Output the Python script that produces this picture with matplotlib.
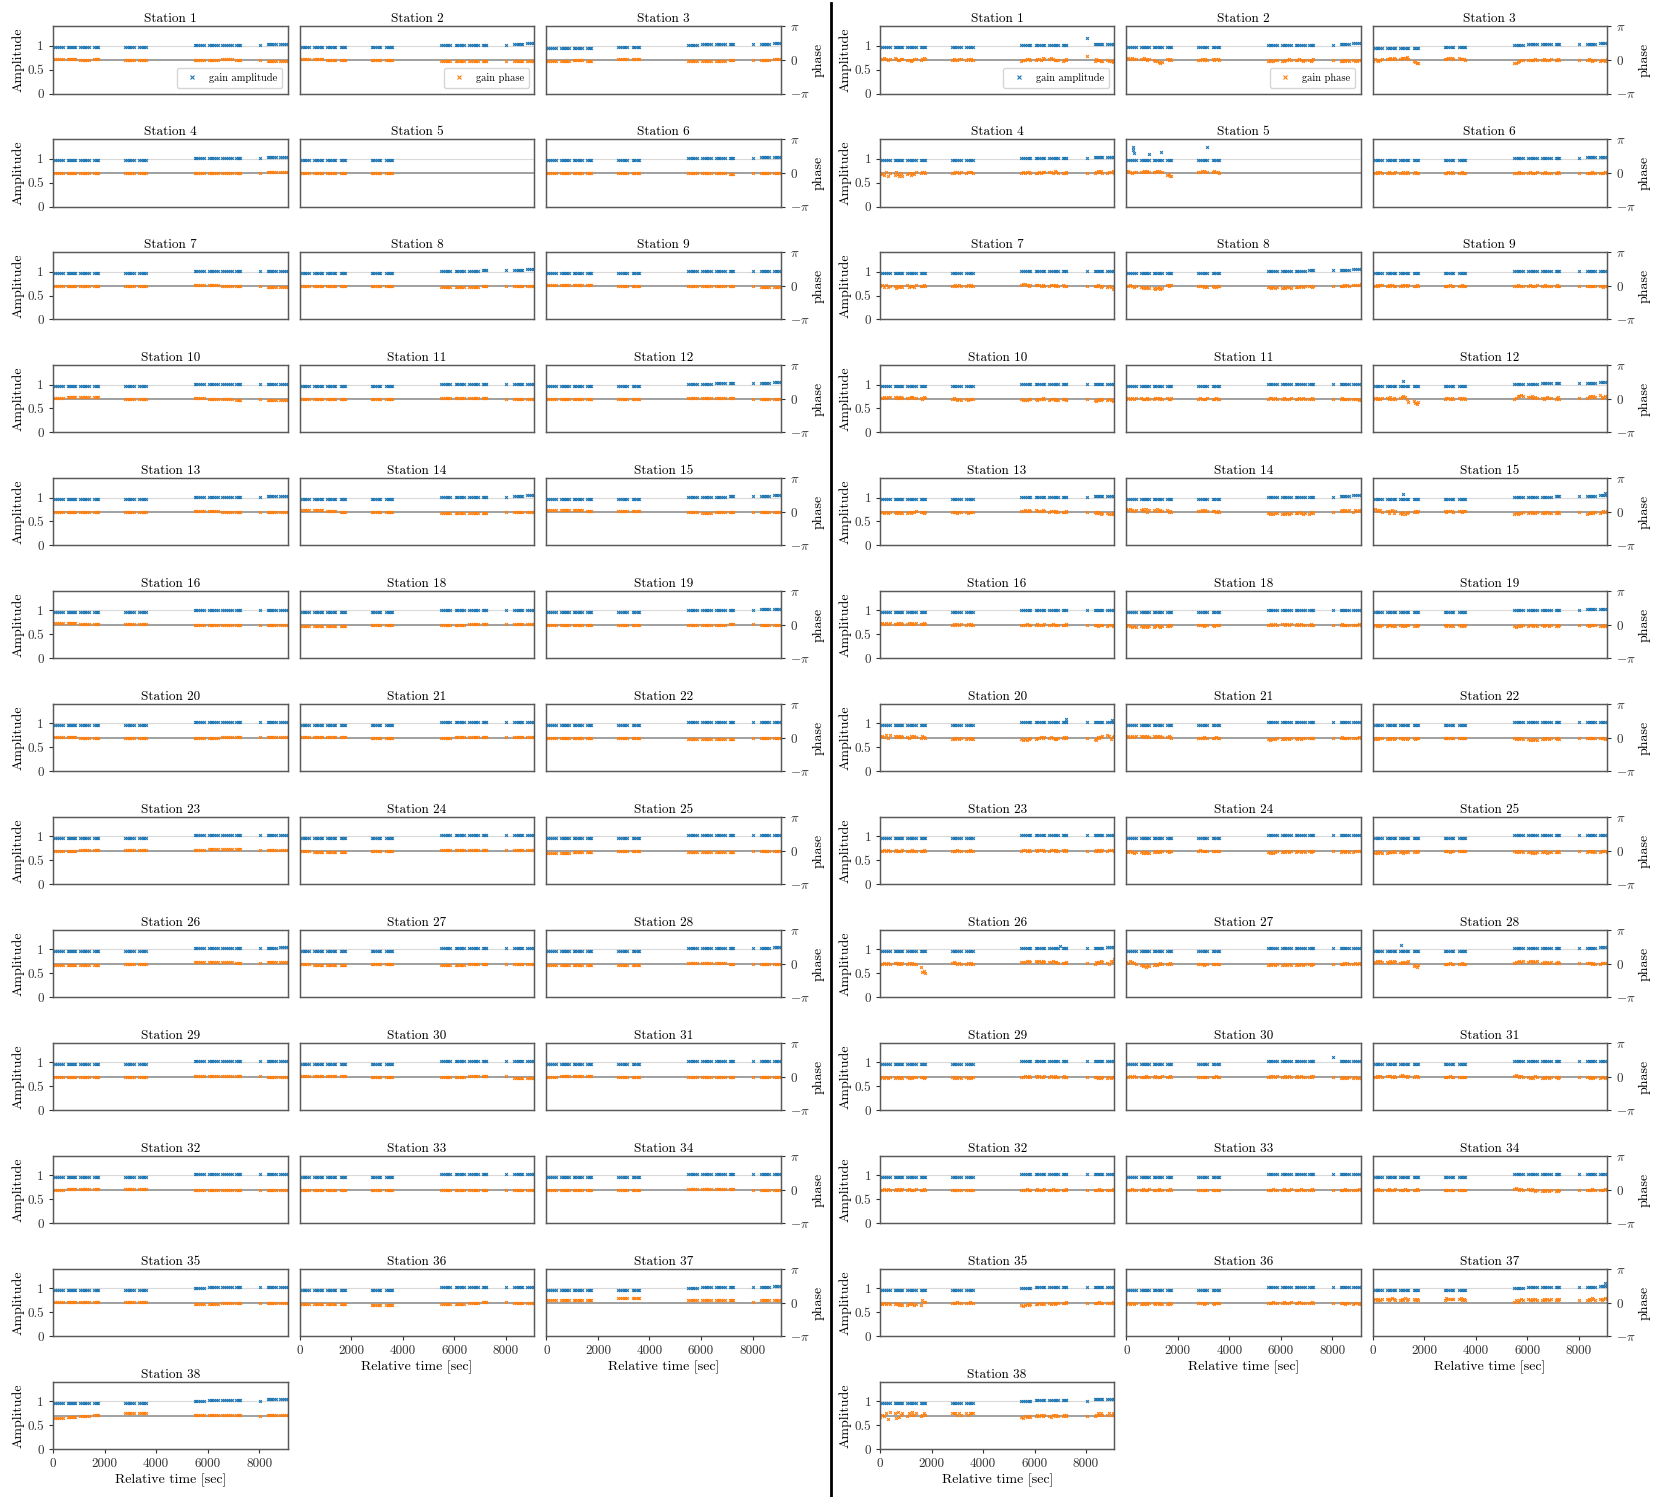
import numpy as np
import matplotlib
matplotlib.use("Agg")
import matplotlib.pyplot as plt
from matplotlib.lines import Line2D

plt.rcParams['font.family'] = 'serif'
plt.rcParams['font.serif'] = ['cmr10', 'DejaVu Serif']
plt.rcParams['mathtext.fontset'] = 'cm'
plt.rcParams['axes.formatter.use_mathtext'] = True

# station numbers (17 is missing)
stations = list(range(1, 17)) + list(range(18, 39))

# sample times [sec] of every scan
scan_times = [
    [0, 75, 150, 225, 300, 375],
    [570, 630, 690, 750, 810, 870],
    [1060, 1125, 1190, 1255, 1320, 1385],
    [1590, 1650, 1710, 1750],
    [2790, 2860, 2930, 3000, 3070, 3130],
    [3350, 3415, 3480, 3545, 3600],
    [5490, 5560, 5630, 5700, 5770, 5840],
    [6050, 6115, 6180, 6245, 6310, 6380],
    [6570, 6640, 6710, 6780, 6850, 6930],
    [7110, 7160, 7210, 7240],
    [8020],
    [8330, 8390, 8450, 8510, 8570, 8630],
    [8820, 8890, 8960, 9030, 9100],
]

# value codes: index in SYMBOLS minus 10, times a step, added to a centre
# amplitude: centre 1.0, step 0.01   phase: centre 0 rad, step 0.1 rad
# '.' = no sample in that scan
SYMBOLS = "edcba0123456789ABCDE"

# left figure: one code per scan
amp_left = [
    "2222 22 7777 7 88", "2222 22 7777 7 8A", "1110 22 7888 9 9B", "2222 22 7777 7 88",
    "2222 22", "2222 22 7777 7 88", "2222 22 7777 7 77", "1111 11 6678 8 9B",
    "2222 22 7777 7 77", "2222 22 7777 7 77", "2222 22 7777 7 77", "2221 22 7788 8 9B",
    "2222 22 7777 7 88", "2222 22 7777 7 8A", "1111 11 6778 8 9A", "2222 22 7777 7 77",
    "2222 22 7777 7 77", "2222 22 7777 7 88", "2222 22 7777 7 88", "2222 22 7777 7 88",
    "2222 22 7777 7 88", "2222 22 7778 8 88", "2222 22 7777 7 88", "2222 22 7777 7 88",
    "2222 22 7777 7 8A", "2222 22 7777 7 88", "2222 22 7777 7 8A", "2222 22 7777 7 88",
    "2222 22 7777 7 88", "2222 22 7777 7 88", "2222 22 7777 7 88", "2222 22 7777 7 88",
    "2222 22 7777 7 88", "2222 22 6778 7 88", "2222 22 7777 7 77", "2222 22 6777 7 8A",
    "1122 22 6777 6 9A",
]
phase_left = [
    "6656 55 5565 5 44", "6655 55 4444 4 44", "4454 66 4445 5 56", "5555 55 5555 5 66",
    "5555 55", "5555 55 5554 5 55", "5555 55 6655 5 44", "5555 55 4445 5 55",
    "6666 55 5555 5 44", "6777 55 6554 5 44", "5555 55 6666 5 55", "5555 55 6666 5 55",
    "5555 55 6655 5 55", "7765 55 4444 5 55", "7776 66 5455 5 55", "7766 66 5555 5 55",
    "4444 55 5566 6 66", "5555 55 5556 6 55", "6655 55 5566 6 66", "6666 55 5666 6 66",
    "5555 55 4444 5 55", "5566 66 6777 6 66", "5444 55 6666 6 66", "3344 55 4444 5 55",
    "4444 55 7776 6 77", "5444 55 4455 5 55", "4444 44 6665 5 55", "5555 55 6666 6 55",
    "6666 55 5566 6 44", "5666 55 5555 5 55", "5666 66 5555 5 55", "5555 55 5555 5 55",
    "5555 55 6666 5 55", "6666 66 4455 5 55", "4444 33 4456 6 55", "7777 99 7777 6 77",
    "3456 77 6666 5 66",
]

# right figure: amplitude per scan plus single outliers
amp_right = [
    "2222 22 7777 . 88", "2222 22 7777 7 8A", "1110 22 7888 9 9B", "2222 22 7777 7 88",
    "2222 22", "2222 22 7777 7 88", "2222 22 7777 7 77", "1111 11 6678 8 9B",
    "2222 22 7777 7 77", "2222 22 7777 7 77", "2222 22 7777 7 77", "2221 22 7788 8 9B",
    "2222 22 7777 7 88", "2222 22 7777 7 8A", "1111 11 6778 8 9A", "2222 22 7777 7 77",
    "2222 22 7777 7 77", "2222 22 7777 7 88", "2222 22 7777 7 88", "2222 22 7777 7 88",
    "2222 22 7777 7 88", "2222 22 7778 8 88", "2222 22 7777 7 88", "2222 22 7777 7 88",
    "2222 22 7777 7 8A", "2222 22 7777 7 88", "2222 22 7777 7 8A", "2222 22 7777 7 88",
    "2222 22 7777 . 88", "2222 22 7777 7 88", "2222 22 7777 7 88", "2222 22 7777 7 88",
    "2222 22 7777 7 88", "2222 22 6778 7 88", "2222 22 7777 7 77", "2222 22 6777 7 8A",
    "1122 22 6777 6 9A",
]
amp_right_outliers = {
    1: [(8020, 1.15)],
    5: [(255, 1.24), (255, 1.17), (300, 1.12), (877, 1.10), (1354, 1.13), (3122, 1.24)],
    12: [(1186, 1.08)],
    15: [(1186, 1.08), (9015, 1.10)],
    20: [(7210, 1.10), (9015, 1.08)],
    26: [(6990, 1.08)],
    28: [(1098, 1.10)],
    30: [(8020, 1.12)],
    37: [(9015, 1.10)],
}
# right figure: phase per sample, one group per scan
phase_right = [
    "667656 765566 554566 5676 565566 56565 455665 566576 676555 4556 9 465544 54435",
    "676766 667656 544323 6565 556565 65665 454455 445565 556545 5456 5 445454 54455",
    "465456 667676 677786 4322 667776 76665 223455 555565 565556 5565 5 565455 45546",
    "543625 364252 453546 5665 556656 56665 565665 556566 665765 5565 5 567675 56675",
    "676566 667676 667766 3422 667766 67665",
    "556565 565556 556565 5655 556565 55655 555655 565556 556555 5565 5 555655 55565",
    "564645 535454 645546 5565 556565 56565 677656 666565 566565 6555 5 556545 45423",
    "556545 434343 323423 6566 555454 54455 443434 343443 444545 5545 5 556565 66667",
    "556566 565655 565656 5565 555655 55655 556555 565556 556555 5655 5 555555 55455",
    "667677 767676 667766 6576 565454 54555 544455 545565 455454 5545 5 434545 45434",
    "565656 655565 566565 6556 565556 55655 566565 565556 556565 5565 5 565555 55545",
    "565656 657565 678752 3102 566565 65665 568898 778676 656766 5675 6 678787 96786",
    "554545 545454 454556 5545 555455 54555 667676 766676 566565 5565 5 545434 43343",
    "878767 786857 768676 7565 667676 66565 434344 343434 445434 3454 5 676767 57676",
    "787675 646746 435345 5656 656665 66566 343445 454545 454544 4554 5 344545 45656",
    "676767 667676 676767 6676 565656 56565 555655 565556 556555 5565 5 554555 45545",
    "454343 434434 345434 4545 555455 54555 556565 665656 565655 5655 5 565555 55565",
    "454545 455454 545455 4545 545454 54545 434545 455454 545545 4545 5 545555 44545",
    "676858 767676 657676 5765 454545 45454 434345 455656 565445 5656 5 436567 87467",
    "676767 767676 767676 6765 555655 55655 434445 454545 545455 5555 5 565555 55565",
    "545455 454545 554545 5455 555555 55555 545454 434343 454545 5454 5 555555 55545",
    "556565 565556 555655 5565 555655 55655 566565 656665 566565 6556 5 565656 56665",
    "545434 434343 454545 5455 565555 55555 434345 454545 455454 5455 5 455454 45555",
    "434343 344454 453454 4545 555455 55555 545454 443434 445344 4454 5 455454 45554",
    "556565 665656 565655 2cbd 676565 56565 777887 878787 778776 6676 6 576787 65879",
    "768765 434243 454565 5565 555455 55555 454545 445454 454545 5455 5 556565 56565",
    "678787 768787 676768 3424 555655 55655 677878 787878 676767 6676 6 666565 56666",
    "454545 455454 545455 5545 545454 54545 556565 656556 565655 5655 5 554545 45455",
    "556565 555655 565556 5565 555555 55655 565656 556565 565655 5656 5 454545 45444",
    "556565 666565 676656 5665 555655 55555 676565 545465 454545 5545 5 554545 45545",
    "556565 565656 565556 5565 555555 55555 555655 565556 556555 5565 5 555655 55565",
    "555655 565556 555655 5565 555555 55555 555655 565556 555655 5565 5 555655 55565",
    "555655 565556 555655 5565 555555 55555 676565 656545 454545 4545 5 555655 55565",
    "545454 454343 345434 3766 555655 55655 323434 445454 545455 5565 5 555655 55565",
    "454545 454545 545454 4545 555455 54555 555655 565556 556555 5565 5 555455 45545",
    "787878 878987 787978 8787 798888 89787 676787 878787 787878 7878 7 787987 87898",
    "465728 738467 576867 5676 777676 76777 435454 565656 546565 5656 5 567676 67676",
]

BLUE = '#1f77b4'
ORANGE = '#ff7f0e'


def per_scan(code, centre, step):
    t, v = [], []
    for i, ch in enumerate(code.replace(' ', '')):
        if ch == '.':
            continue
        t += scan_times[i]
        v += [centre + (SYMBOLS.index(ch) - 10) * step] * len(scan_times[i])
    return t, v


def per_sample(code, centre, step):
    t, v = [], []
    for i, grp in enumerate(code.split()):
        n = min(len(grp), len(scan_times[i]))
        t += scan_times[i][:n]
        v += [centre + (SYMBOLS.index(ch) - 10) * step for ch in grp[:n]]
    return t, v


def draw_figure(gs, amp_codes, phase_codes, phase_per_sample, outliers):
    nrow = 13
    for k, st in enumerate(stations):
        r, c = divmod(k, 3)
        ax = fig.add_subplot(gs[r, c])
        ax2 = ax.twinx()
        ax.set_zorder(1)
        ax.patch.set_visible(False)

        ax.axhline(1, color='0.85', lw=0.8, zorder=0)
        ax2.axhline(0, color='0.6', lw=1.3, zorder=0)

        ta, va = per_scan(amp_codes[k], 1.0, 0.01)
        for t_o, a_o in outliers.get(st, []):
            ta.append(t_o)
            va.append(a_o)
        if phase_per_sample:
            tp, vp = per_sample(phase_codes[k], 0.0, 0.1)
        else:
            tp, vp = per_scan(phase_codes[k], 0.0, 0.1)

        ax.plot(ta, va, 'x', color=BLUE, ms=2.0, mew=0.8, label='gain amplitude')
        ax2.plot(tp, vp, 'x', color=ORANGE, ms=2.0, mew=0.8, label='gain phase')

        ax.set_xlim(0, 9100)
        ax.set_ylim(0, 1.4)
        ax2.set_ylim(-np.pi, np.pi)
        ax.set_title(f"Station {st}", fontsize=9.5, pad=3)

        for a in (ax, ax2):
            for sp in a.spines.values():
                sp.set_color('0.35')
                sp.set_linewidth(0.9)
        ax.tick_params(labelsize=9.5, colors='0.2', length=3)
        ax2.tick_params(labelsize=9.5, colors='0.2', length=3)

        if c == 0:
            ax.set_yticks([0, 0.5, 1], ['0', '0.5', '1'])
            ax.set_ylabel('Amplitude', fontsize=10, labelpad=2)
        else:
            ax.set_yticks([])
        if c == 2:
            ax2.set_yticks([-np.pi, 0, np.pi], [r'$-\pi$', r'$0$', r'$\pi$'])
            ax2.set_ylabel('phase', fontsize=10, labelpad=2)
        else:
            ax2.set_yticks([])

        bottom = (r == nrow - 1) or (r == nrow - 2 and c > 0)
        if bottom:
            ax.set_xticks([0, 2000, 4000, 6000, 8000], ['0', '2000', '4000', '6000', '8000'])
            ax.set_xlabel('Relative time [sec]', fontsize=10, labelpad=2)
        else:
            ax.set_xticks([])

        if st == 1:
            ax.legend(loc='lower right', fontsize=7.5, borderpad=0.5, handletextpad=0.6,
                      markerscale=1.4)
        if st == 2:
            ax2.legend(loc='lower right', fontsize=7.5, borderpad=0.5, handletextpad=0.6,
                       markerscale=1.4)


fig = plt.figure(figsize=(16.61, 14.97), dpi=100)
gs_left = fig.add_gridspec(13, 3, left=0.0319, right=0.4702, top=0.9823, bottom=0.032,
                           hspace=0.685, wspace=0.051)
gs_right = fig.add_gridspec(13, 3, left=0.5298, right=0.9675, top=0.9823, bottom=0.032,
                            hspace=0.685, wspace=0.051)

draw_figure(gs_left, amp_left, phase_left, False, {})
draw_figure(gs_right, amp_right, phase_right, True, amp_right_outliers)

fig.add_artist(Line2D([0.5006, 0.5006], [0.0, 0.998], transform=fig.transFigure,
                      color='black', lw=2))

fig.savefig('out.png', dpi=100)
